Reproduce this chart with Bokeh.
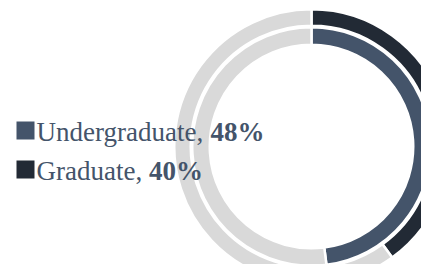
import math
from bokeh.plotting import figure
from bokeh.models import Range1d, ColumnDataSource
from bokeh.core.properties import value
from bokeh.embed import file_html
from bokeh.resources import INLINE

# ---- data ----
categories = ["Undergraduate", "Graduate"]
shares = [48, 40]
colors = ["#44546a", "#222a35"]
track_color = "#d9d9d9"
text_color = "#44546a"

# ---- layout ----
W, H = 421, 264
p = figure(width=W, height=H, x_range=Range1d(0, W), y_range=Range1d(280 - H, 280),
           output_backend="svg", toolbar_location=None, min_border=0)
p.axis.visible = False
p.xgrid.visible = False
p.ygrid.visible = False
p.outline_line_color = None
p.background_fill_color = "white"
p.border_fill_color = "white"

cx, cy = 311, 134
radii = [(103, 118), (122, 136)]  # visible band per category (inner ring first)
bw = 2.5

for cat, share, col, (r0, r1) in zip(categories, shares, colors, radii):
    start = math.pi / 2
    end = start - share / 100.0 * 2 * math.pi
    src = ColumnDataSource(dict(
        s=[end, start], e=[start, end + 2 * math.pi], c=[col, track_color]))
    p.annular_wedge(x=cx, y=cy, inner_radius=r0 - bw / 2, outer_radius=r1 + bw / 2,
                    start_angle="s", end_angle="e", direction="anticlock",
                    fill_color="c", line_color="white", line_width=bw, source=src)

# ---- legend ----
fs = 27
times = {"U": 722, "n": 500, "d": 500, "e": 444, "r": 333, "g": 500, "a": 444,
         "u": 500, "t": 278, "G": 722, ",": 250, " ": 250}

def tw(s):
    return sum(times.get(ch, 500) for ch in s) / 1000.0 * fs

leg_y = [150, 111]
base_y = [149, 110]
reg = [f"{c}, " for c in categories]
bold = [f"{v}%" for v in shares]
bold_x = [36 + tw(s) for s in reg]

p.rect(x=[25, 25], y=leg_y, width=18, height=18, fill_color=colors, line_color=None)
p.text(x=[36, 36], y=base_y, text=reg, text_font=value("Liberation Serif"),
       text_font_size=f"{fs}px", text_color=text_color, text_baseline="alphabetic")
p.text(x=bold_x, y=base_y, text=bold, text_font=value("Liberation Serif"),
       text_font_size=f"{fs}px", text_font_style="bold", text_color=text_color,
       text_baseline="alphabetic")

open("out.html", "w").write(file_html(p, INLINE))
